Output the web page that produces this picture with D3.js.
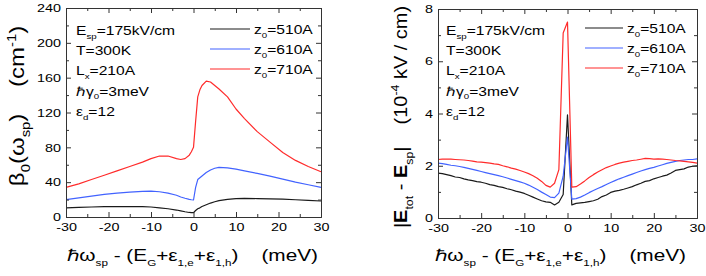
<!DOCTYPE html>
<html>
<head>
<meta charset="utf-8">
<script src="https://cdn.jsdelivr.net/npm/d3@7"></script>
<style>
  body { margin: 0; background: #fff; }
  svg { font-family: "Liberation Sans", Arial, sans-serif; }
  text { white-space: pre; }
</style>
</head>
<body>
<svg id="chart" width="706" height="276"></svg>
<script>
// ---- data: left panel, beta_0 (cm^-1) vs detuning (meV)
const betaX = [-30, -27, -24, -21, -18, -15, -12, -10, -8, -6, -4, -3, -2, -1, -0.5, 0, 0.5, 1, 1.5, 2, 3, 4, 5, 6, 8, 10, 12, 15, 18, 21, 24, 27, 30];
const beta510 = [10.5, 11, 11.5, 12, 12, 12, 11.8, 11.5, 10.5, 9.5, 8, 7, 6, 5.2, 5, 5, 7.5, 9.5, 10.5, 12, 14, 16, 17.5, 18.8, 20.3, 21, 21.3, 21.2, 20.9, 20.5, 19.8, 19, 18.4];
const beta610 = [20, 22, 24, 26, 27.5, 28.5, 29.5, 29.8, 29, 27.5, 25, 23, 21.5, 20.2, 19.8, 19.5, 34, 43, 45, 47, 51, 54, 56, 57, 56.5, 55, 53, 50, 47, 43.5, 40, 37, 34];
const beta710 = [34, 38, 43, 48, 53, 58, 63, 67, 70, 70, 67, 66, 67, 71, 75, 80, 110, 138, 146, 151, 156, 155, 151, 147, 138, 124, 113, 98, 86, 74, 65, 58, 52];

// ---- data: right panel, |E_tot - E_sp| (1e-4 kV/cm) vs detuning (meV)
const fieldX = [-30, -29, -28, -27, -26, -25, -24, -23, -22, -21, -20, -19, -18, -17, -16, -15, -14, -13, -12, -11, -10, -9, -8, -7, -6, -5, -4, -3, -2, -1, 0,
  1, 2, 3, 4, 5, 6, 7, 8, 9, 10, 11, 12, 13, 14, 15, 16, 17, 18, 19, 20, 21, 22, 23, 24, 25, 26, 27, 28, 29, 30];
const field510 = [1.72, 1.7, 1.66, 1.62, 1.57, 1.55, 1.5, 1.46, 1.43, 1.39, 1.37, 1.33, 1.28, 1.25, 1.2, 1.17, 1.12, 1.08, 1.03, 0.99, 0.94, 0.87, 0.8, 0.73, 0.66, 0.62, 0.6, 0.5, 0.6, 0.9, 3.95,
  0.5, 0.56, 0.58, 0.6, 0.63, 0.66, 0.72, 0.82, 0.88, 0.98, 1.03, 1.06, 1.1, 1.15, 1.2, 1.27, 1.33, 1.4, 1.43, 1.5, 1.55, 1.6, 1.64, 1.72, 1.82, 1.85, 1.88, 1.95, 1.98, 2.0];
const field610 = [2.1, 2.08, 2.05, 2.02, 2.0, 1.97, 1.94, 1.9, 1.86, 1.82, 1.78, 1.74, 1.7, 1.66, 1.62, 1.58, 1.53, 1.48, 1.43, 1.38, 1.33, 1.26, 1.18, 1.09, 0.99, 0.9, 0.8, 0.78, 0.95, 1.6, 3.1,
  0.72, 0.74, 0.8, 0.88, 0.97, 1.05, 1.13, 1.2, 1.28, 1.36, 1.43, 1.5, 1.56, 1.62, 1.68, 1.74, 1.8, 1.85, 1.9, 1.94, 1.99, 2.04, 2.09, 2.13, 2.17, 2.2, 2.22, 2.24, 2.24, 2.26];
const field710 = [2.24, 2.25, 2.25, 2.25, 2.24, 2.23, 2.22, 2.2, 2.18, 2.15, 2.14, 2.12, 2.1, 2.07, 2.05, 2.0, 1.96, 1.91, 1.87, 1.82, 1.76, 1.7, 1.62, 1.52, 1.4, 1.25, 1.18, 1.33, 1.85, 7.08, 7.5,
  1.18, 1.2, 1.3, 1.42, 1.55, 1.66, 1.76, 1.85, 1.93, 1.99, 2.05, 2.1, 2.14, 2.17, 2.2, 2.22, 2.25, 2.28, 2.27, 2.25, 2.26, 2.25, 2.24, 2.22, 2.2, 2.19, 2.17, 2.15, 2.13, 2.1];

const xMajor = [-30, -20, -10, 0, 10, 20, 30];
const xMinor = [-25, -15, -5, 5, 15, 25];
const betaTicks = [0, 40, 80, 120, 160, 200, 240];
const betaMinor = [20, 60, 100, 140, 180, 220];
const fieldTicks = [0, 2, 4, 6, 8];
const fieldMinor = [1, 3, 5, 7];

const seriesNames = [['z', '_0', '=510A'], ['z', '_0', '=610A'], ['z', '_0', '=710A']];
const seriesColors = ['#1a1a1a', '#4263ff', '#ff2b2b'];
const notes = [
  ['E', '_sp', '=175kV/cm'],
  ['T=300K'],
  ['L', '_x', '=210A'],
  ['ℏγ', '_0', '=3meV'],
  ['ε', '_d', '=12']
];
const xTitle = ['ℏω', '_sp', ' - (E', '_G', '+ε', '_1,e', '+ε', '_1,h', ')    (meV)'];
const betaTitle = ['β', '_0', '(ω', '_sp', ')    (cm', '^-1', ')'];
const fieldTitle = ['|', '*E', '_tot', ' - ', '*E', '_sp', '|    (10', '^-4', ' kV / cm)'];

const STRETCH = 1.25;
const svg = d3.select('#chart');

// text with _sub, ^sup and *bold pieces
function richText(parent, parts, size, transform, anchor, subScale) {
  const sub = subScale || 0.62;
  const t = parent.append('text')
    .attr('transform', transform)
    .attr('font-size', size)
    .attr('text-anchor', anchor || 'start')
    .attr('xml:space', 'preserve')
    .attr('fill', '#000');
  let off = 0;
  parts.forEach(p => {
    let dy = 0, fs = size, weight = null, s = p;
    if (p[0] === '_') { s = p.slice(1); fs = size * sub; dy = size * 0.3 - off; }
    else if (p[0] === '^') { s = p.slice(1); fs = size * sub; dy = -size * 0.42 - off; }
    else if (p[0] === '*') { s = p.slice(1); weight = 'bold'; dy = -off; }
    else { dy = -off; }
    off += dy;
    const ts = t.append('tspan').attr('font-size', fs).attr('dy', dy).text(s);
    if (weight) ts.attr('font-weight', weight);
  });
  return t;
}

function panel(cfg) {
  const g = svg.append('g');
  const x = d3.scaleLinear().domain([-30, 30]).range([cfg.left, cfg.right]);
  const y = d3.scaleLinear().domain(cfg.yDomain).range([cfg.bottom, cfg.top]);

  // curves
  const line = d3.line().x((d, i) => x(cfg.xs[i])).y(d => y(d));
  cfg.series.forEach((s, i) => {
    g.append('path').datum(s)
      .attr('fill', 'none')
      .attr('stroke', seriesColors[i])
      .attr('stroke-width', 1.2)
      .attr('stroke-linejoin', 'round')
      .attr('d', line);
  });

  // axes, ticks pointing inward on all four sides
  const fmt = d => String(d);
  const ax = (sel, a) => {
    sel.call(a);
    sel.selectAll('path.domain').attr('stroke', '#333');
    sel.selectAll('line').attr('stroke', '#333');
  };
  const bottom = g.append('g').attr('transform', `translate(0,${cfg.bottom})`);
  ax(bottom, d3.axisBottom(x).tickValues(xMajor).tickSize(-5).tickSizeOuter(0).tickPadding(6).tickFormat(fmt));
  bottom.selectAll('text').attr('font-size', 11.5).attr('fill', '#000').attr('font-family', null)
    .attr('transform', `scale(${STRETCH},1)`);
  ax(g.append('g').attr('transform', `translate(0,${cfg.bottom})`),
    d3.axisBottom(x).tickValues(xMinor).tickSize(-3).tickSizeOuter(0).tickFormat(''));
  ax(g.append('g').attr('transform', `translate(0,${cfg.top})`),
    d3.axisTop(x).tickValues(xMajor).tickSize(-5).tickSizeOuter(0).tickFormat(''));
  ax(g.append('g').attr('transform', `translate(0,${cfg.top})`),
    d3.axisTop(x).tickValues(xMinor).tickSize(-3).tickSizeOuter(0).tickFormat(''));

  const left = g.append('g').attr('transform', `translate(${cfg.left},0)`);
  ax(left, d3.axisLeft(y).tickValues(cfg.yTicks).tickSize(-5).tickSizeOuter(0).tickPadding(4).tickFormat(fmt));
  left.selectAll('text').attr('font-size', 11.5).attr('fill', '#000').attr('font-family', null)
    .attr('x', -5 / STRETCH).attr('transform', `scale(${STRETCH},1)`);
  ax(g.append('g').attr('transform', `translate(${cfg.left},0)`),
    d3.axisLeft(y).tickValues(cfg.yMinor).tickSize(-3).tickSizeOuter(0).tickFormat(''));
  ax(g.append('g').attr('transform', `translate(${cfg.right},0)`),
    d3.axisRight(y).tickValues(cfg.yTicks).tickSize(-5).tickSizeOuter(0).tickFormat(''));
  ax(g.append('g').attr('transform', `translate(${cfg.right},0)`),
    d3.axisRight(y).tickValues(cfg.yMinor).tickSize(-3).tickSizeOuter(0).tickFormat(''));

  // parameter notes
  notes.forEach((n, i) => {
    richText(g, n, 12.5, `translate(${cfg.noteX},${35 + i * 20.2}) scale(${STRETCH},1)`);
  });

  // legend
  seriesNames.forEach((name, i) => {
    const ly = cfg.legY + i * 20;
    g.append('line')
      .attr('x1', cfg.legX).attr('x2', cfg.legX + cfg.legLen)
      .attr('y1', ly).attr('y2', ly)
      .attr('stroke', seriesColors[i]).attr('stroke-width', 1.2);
    richText(g, name, 12.5, `translate(${cfg.legX + cfg.legLen + 4},${ly + 5}) scale(${STRETCH},1)`);
  });

  // axis titles
  richText(g, xTitle, 16, `translate(${cfg.xTitleX},261) scale(1.3,1)`, 'start', 0.56);
  richText(g, cfg.yTitle, cfg.yTitleSize, `translate(${cfg.yTitleX},${cfg.yTitleY}) rotate(-90) scale(${cfg.yTitleStretch},1)`, 'middle');
}

panel({
  left: 66, right: 321, top: 8, bottom: 217,
  yDomain: [0, 240], yTicks: betaTicks, yMinor: betaMinor,
  xs: betaX, series: [beta510, beta610, beta710],
  noteX: 76, legX: 210, legY: 29, legLen: 40,
  xTitleX: 67, yTitle: betaTitle, yTitleSize: 20, yTitleStretch: 1.2, yTitleX: 24, yTitleY: 106
});

panel({
  left: 438, right: 697, top: 9, bottom: 218,
  yDomain: [0, 8], yTicks: fieldTicks, yMinor: fieldMinor,
  xs: fieldX, series: [field510, field610, field710],
  noteX: 446, legX: 585, legY: 28, legLen: 38,
  xTitleX: 435, yTitle: fieldTitle, yTitleSize: 19, yTitleStretch: 1.05, yTitleX: 407, yTitleY: 117
});
</script>
</body>
</html>
